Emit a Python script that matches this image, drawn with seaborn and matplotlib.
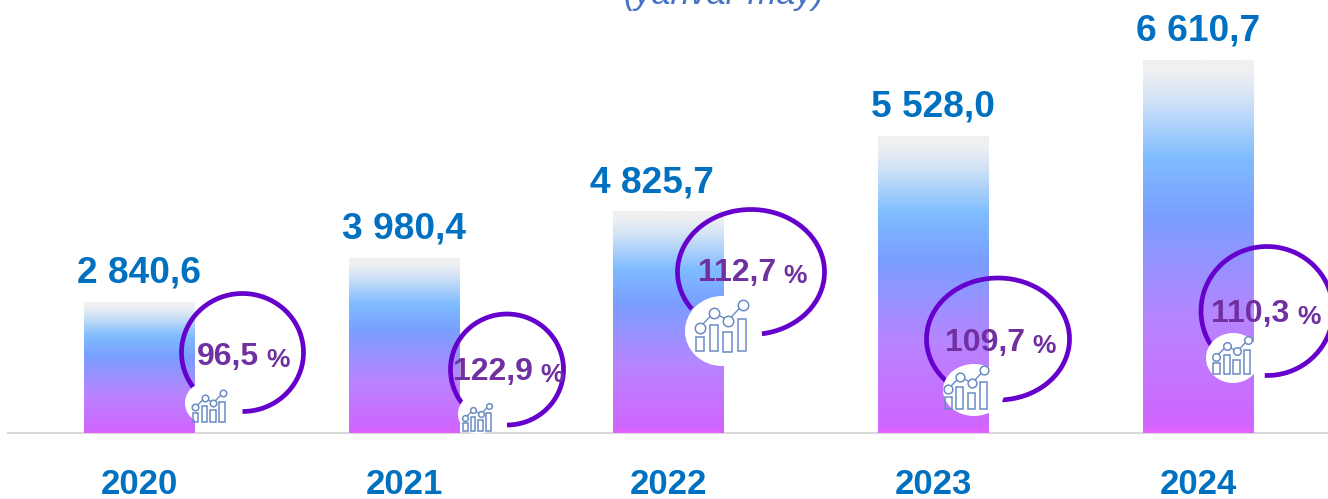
import numpy as np
import pandas as pd
import seaborn as sns
import matplotlib.pyplot as plt
from matplotlib.colors import LinearSegmentedColormap
from matplotlib.patches import Arc, Ellipse, Rectangle

years = ["2020", "2021", "2022", "2023", "2024"]
value_labels = ["2 840,6", "3 980,4", "4 825,7", "5 528,0", "6 610,7"]
# The source infographic's bars are not proportional to its numbers: drawn heights
drawn_heights = [131, 175, 222, 297, 373]
growth_labels = ["96,5", "122,9", "112,7", "109,7", "110,3"]
title_fragment = "(yanvar-may)"

sns.set_theme(style="white")
plt.rcParams["font.family"] = ["Liberation Sans", "DejaVu Sans"]

W, H, BASE = 1328, 499, 433
fig = plt.figure(figsize=(W / 100, H / 100), dpi=100, facecolor="white")
ax = fig.add_axes([0, (H - BASE) / H, 1, BASE / H])

df = pd.DataFrame({"year": years, "height": drawn_heights})
sns.barplot(data=df, x="year", y="height", color="#7aa5ff", width=110.5 / 264.75,
            saturation=1, ax=ax, zorder=2)

xlim = (-139.3 / 264.7, (W - 139.3) / 264.7)
cmap = LinearSegmentedColormap.from_list("bar", [
    (0.00, "#e562ff"), (0.025, "#cf66ff"), (0.30, "#b884ff"), (0.58, "#7a9eff"),
    (0.74, "#7fbcff"), (0.90, "#d4e4f6"), (0.97, "#eef0f2"), (1.00, "#f0f0f0")])
grad = np.linspace(1, 0, 256).reshape(-1, 1)
for p in ax.patches:
    x0, w, h = p.get_x(), p.get_width(), p.get_height()
    ax.imshow(grad, cmap=cmap, extent=(x0, x0 + w, 0, h), aspect="auto", zorder=3, vmin=0, vmax=1)
ax.set_xlim(*xlim)
ax.set_ylim(0, BASE)

label_shift = [0, 0, -0.064, 0, 0]
for i, (lab, h) in enumerate(zip(value_labels, drawn_heights)):
    ax.text(i + label_shift[i], h + 19, lab, ha="center", va="baseline", fontsize=26.7,
            fontweight="bold", color="#0070c0", zorder=6)

sns.despine(ax=ax, left=True, top=True, right=True)
ax.spines["bottom"].set_color("#d9d9d9")
ax.spines["bottom"].set_linewidth(1.5)
ax.spines["bottom"].set_bounds(-0.4967, xlim[1])
ax.set_yticks([])
ax.set_xlabel("")
ax.set_ylabel("")
ax.tick_params(axis="x", length=0, pad=25.5, labelsize=25, labelcolor="#0070c0")
for t in ax.get_xticklabels():
    t.set_fontweight("bold")

# Pixel-space overlay for the decorative rings and icons
ov = fig.add_axes([0, 0, 1, 1], facecolor="none", zorder=5)
ov.set_xlim(0, W)
ov.set_ylim(H, 0)
ov.axis("off")

PURPLE, ICON = "#6600cc", "#6a8cc4"
# cx, cy, w, h, theta1, theta2, blob cx, cy, rx, ry, icon cx, cy, scale, text left, text cy
rings = [
    (242.5, 352.5, 122, 118, 144, 450, 205, 403, 20, 20, 209, 418, 0.63, 197, 357),
    (507, 369.5, 113, 111, 130, 450, 478, 414, 20, 20, 477, 427.5, 0.55, 453, 372),
    (751, 272, 147, 125, 148, 440, 722, 331, 37, 35, 721, 344.5, 1.0, 698, 273),
    (998, 339, 143, 122, 140, 446, 974, 390, 31, 26, 966, 403.5, 0.84, 945, 343),
    (1267, 311, 132, 129, 140, 452, 1233, 358, 27, 25, 1232, 369, 0.73, 1211, 314),
]
bars_u = [(-25.5, 8.5, -8, 14.5), (-11.5, 8.5, -19.5, 26), (2, 8.5, -13, 20), (16.5, 8.5, -26, 32.5)]
pts_u = [(-21.5, -17), (-7, -32), (7, -24), (21.5, -39.5)]

for (cx, cy, w, h, t1, t2, bx, by, rx, ry, ix, iy, s, tx, ty), lab in zip(rings, growth_labels):
    ov.add_patch(Arc((cx, cy), w, h, theta1=t1, theta2=t2, color=PURPLE, lw=3.4, zorder=2))
    ov.add_patch(Ellipse((bx, by), 2 * rx, 2 * ry, fc="white", ec="none", zorder=3))
    for (dx, bw, top, bh) in bars_u:
        ov.add_patch(Rectangle((ix + dx * s, iy + top * s), bw * s, bh * s, fc="none",
                               ec=ICON, lw=1.1, zorder=4))
    xs = [ix + p[0] * s for p in pts_u]
    ys = [iy + p[1] * s for p in pts_u]
    ov.plot(xs, ys, color=ICON, lw=1.0, zorder=4)
    ov.plot(xs, ys, ls="none", marker="o", ms=7.5 * s, mfc="white", mec=ICON, mew=1.1, zorder=5)
    ann = ov.annotate(lab, (tx, ty), ha="left", va="center", fontsize=23,
                      fontweight="bold", color="#7030a0", zorder=6)
    ov.annotate("%", (1, 0), xycoords=ann, xytext=(5.5, 0), textcoords="offset points",
                ha="left", va="bottom", fontsize=19, fontweight="bold", color="#7030a0", zorder=6)

fig.text(724 / W, 1 - 4 / H, title_fragment, ha="center", va="baseline", fontsize=24.7,
         fontstyle="italic", color="#4472c4")

fig.savefig("out.png", dpi=100)
